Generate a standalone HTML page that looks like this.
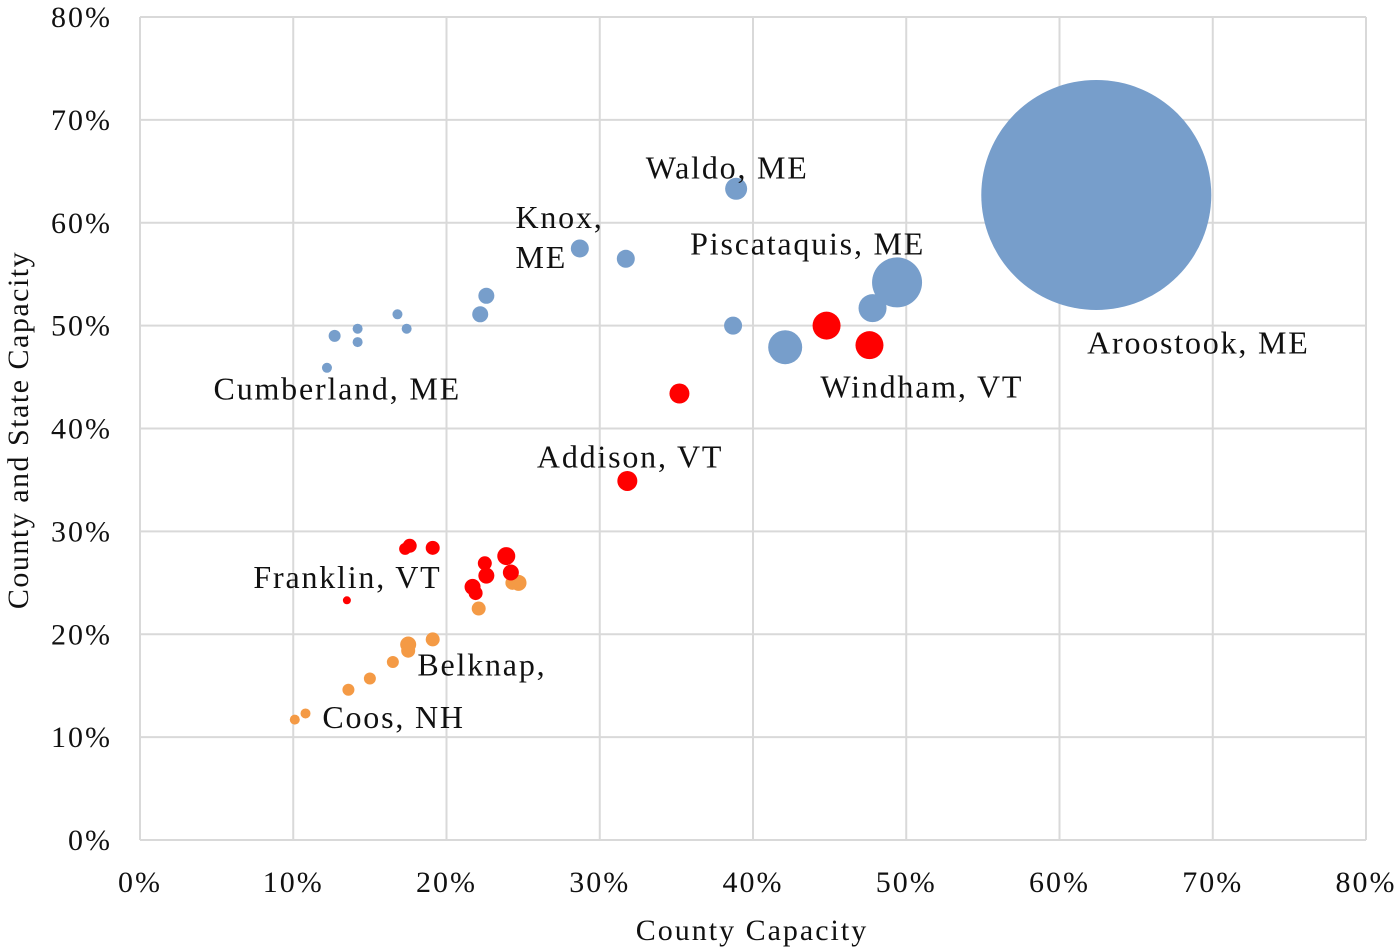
<!DOCTYPE html>
<html><head><meta charset="utf-8"><style>
html,body{margin:0;padding:0;background:#fff;}
svg{display:block;font-family:"Liberation Serif",serif;}
</style></head><body>
<svg id="chart" width="1400" height="951">
<g id="grid"></g>
<g id="bubbles"></g>
<g id="ticks" letter-spacing="2"></g>
<g id="labels" font-size="32" letter-spacing="1.8" fill="#111"></g>
<text x="752" y="940" text-anchor="middle" font-size="30" letter-spacing="2" fill="#111">County Capacity</text>
<text transform="translate(28,430) rotate(-90)" text-anchor="middle" font-size="30" letter-spacing="1.5" fill="#111">County and State Capacity</text>
</svg>
<script>
const xTicks=[0,10,20,30,40,50,60,70,80];
const yTicks=[0,10,20,30,40,50,60,70,80];
const blueX=[62.4,38.9,28.7,31.7,49.4,47.8,42.1,38.7,22.6,22.2,16.8,17.4,14.2,14.2,12.7,12.2];
const blueY=[62.7,63.3,57.5,56.5,54.2,51.7,47.9,50.0,52.9,51.1,51.1,49.7,49.7,48.4,49.0,45.9];
const blueS=[13225,121,81,81,625,196,289,81,64,64,25,25,25,25,36,25];
const redX=[44.8,47.6,35.2,31.8,17.6,17.3,19.1,23.9,22.5,22.6,24.2,21.7,21.9,13.5];
const redY=[50.0,48.1,43.4,34.9,28.6,28.3,28.4,27.6,26.9,25.7,26.0,24.6,24.0,23.3];
const redS=[196,196,100,100,49,36,49,81,49,64,64,64,49,16];
const orX=[24.7,24.3,22.1,19.1,17.5,17.5,16.5,15.0,13.6,10.8,10.1];
const orY=[25.0,25.0,22.5,19.5,19.0,18.4,17.3,15.7,14.6,12.3,11.7];
const orS=[64,49,49,49,64,49,36,36,36,25,25];
const labelText=["Waldo, ME","Knox,","ME","Piscataquis, ME","Aroostook, ME","Cumberland, ME","Windham, VT","Addison, VT","Franklin, VT","Belknap,","Coos, NH"];
const labelX=[33.0,24.5,24.5,35.9,61.8,4.8,44.4,25.9,7.4,18.1,11.9];
const labelY=[64.3,59.5,55.6,56.9,47.3,42.8,43.0,36.2,24.5,16.0,10.9];
const X0=140,X1=1366,Y0=840,Y1=17;
const sx=v=>X0+(v/80)*(X1-X0);
const sy=v=>Y0-(v/80)*(Y0-Y1);
const NS="http://www.w3.org/2000/svg";
function mk(tag,attrs,parent){const e=document.createElementNS(NS,tag);for(const k in attrs)e.setAttribute(k,attrs[k]);parent.appendChild(e);return e;}
const grid=document.getElementById('grid'),ticks=document.getElementById('ticks');
xTicks.forEach(t=>{
 const l=mk('line',{x1:sx(t),x2:sx(t),y1:Y1,y2:Y0,stroke:'#d9d9d9','stroke-width':2},grid);
 
 
 const tx=mk('text',{x:sx(t),y:892,'text-anchor':'middle','font-size':30,fill:'#111'},ticks);
 tx.textContent=t+'%';
 
 
});
yTicks.forEach(t=>{
 const l=mk('line',{x1:X0,x2:X1,y1:sy(t),y2:sy(t),stroke:'#d9d9d9','stroke-width':2},grid);
 
 
 const tx=mk('text',{x:112,y:sy(t)+10,'text-anchor':'end','font-size':30,fill:'#111'},ticks);
 tx.textContent=t+'%';
 
 
});
const bub=document.getElementById('bubbles');
function series(xs,ys,ss,color,name){
 xs.forEach((x,i)=>{
  const c=mk('circle',{cx:sx(x),cy:sy(ys[i]),r:Math.sqrt(ss[i]),fill:color},bub);
  
  
 });
}
series(blueX,blueY,blueS,'#779ecb','bubble-maine');
series(orX,orY,orS,'#f49a45','bubble-new-hampshire');
series(redX,redY,redS,'#ff0000','bubble-vermont');
const lab=document.getElementById('labels');
labelText.forEach((t,i)=>{
 const tx=mk('text',{x:sx(labelX[i]),y:sy(labelY[i])},lab);
 tx.textContent=t;
 
 
});
</script>
</body></html>
